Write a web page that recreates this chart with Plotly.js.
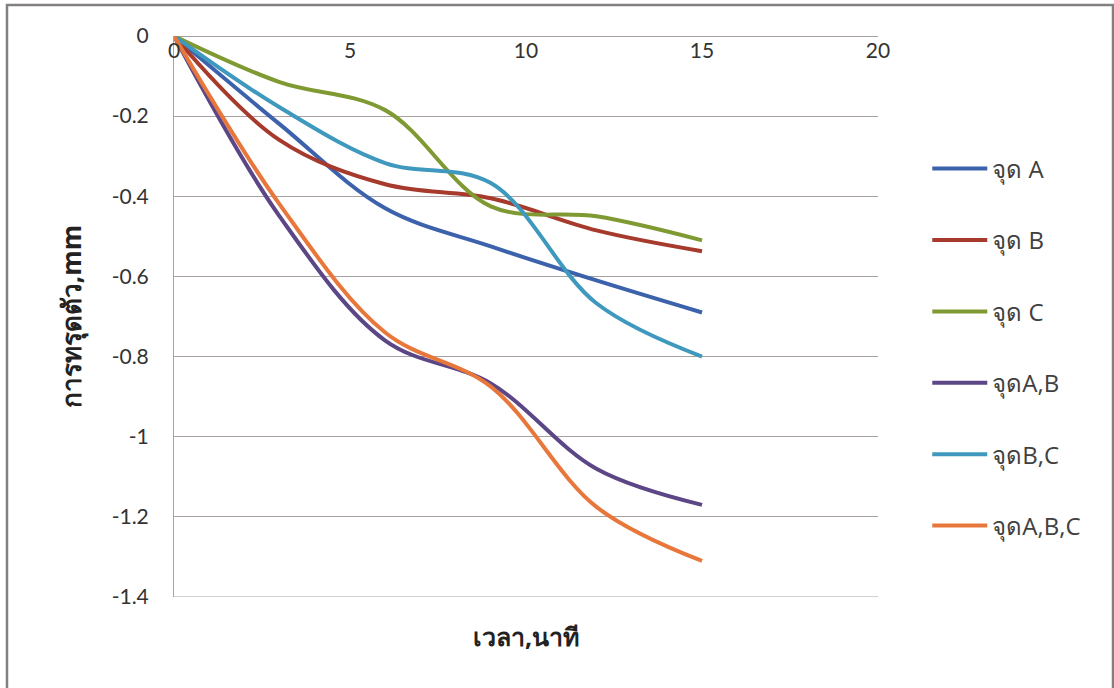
<!DOCTYPE html>
<html>
<head>
<meta charset="utf-8">
<script src="https://cdn.plot.ly/plotly-3.0.1.min.js"></script>
<style>html,body{margin:0;padding:0;background:#fff;}#chart{width:1114px;height:688px;}</style>
</head>
<body>
<div id="chart"></div>
<script>
const timeMin = [0, 3, 6, 9, 12, 15];
const seriesNames = ["จุด A", "จุด B", "จุด C", "จุดA,B", "จุดB,C", "จุดA,B,C"];
const pointA   = [0, -0.22, -0.43, -0.525, -0.61, -0.69];
const pointB   = [0, -0.26, -0.37, -0.405, -0.485, -0.537];
const pointC   = [0, -0.115, -0.185, -0.425, -0.45, -0.51];
const pointAB  = [0, -0.45, -0.76, -0.867, -1.08, -1.17];
const pointBC  = [0, -0.178, -0.317, -0.367, -0.667, -0.80];
const pointABC = [0, -0.42, -0.74, -0.875, -1.175, -1.31];
const xTicks = [0, 5, 10, 15, 20];
const yTicks = [0, -0.2, -0.4, -0.6, -0.8, -1, -1.2, -1.4];
const yTickLabels = ["0", "-0.2", "-0.4", "-0.6", "-0.8", "-1", "-1.2", "-1.4"];

const colors = ["#3d62ac", "#a63a2c", "#809a33", "#5b4686", "#3f98bd", "#e8773b"];
const allSeries = [pointA, pointB, pointC, pointAB, pointBC, pointABC];

const font = "Lato, 'Open Sans', 'Noto Sans', 'DejaVu Sans', sans-serif";
const titleFont = "'Open Sans', 'Noto Sans', 'DejaVu Sans', sans-serif";

const traces = allSeries.map((ys, i) => ({
  x: timeMin, y: ys, name: seriesNames[i], type: 'scatter', mode: 'lines',
  line: {color: colors[i], width: 4, shape: 'spline', smoothing: 1},
  legendgroup: 'g' + i, hoverinfo: 'x+y'
}));

const layout = {
  width: 1114, height: 688,
  margin: {l: 174, r: 236, t: 36, b: 91},
  paper_bgcolor: '#ffffff', plot_bgcolor: '#ffffff',
  font: {family: font, size: 20, color: '#333333'},
  showlegend: true,
  legend: {x: 1.07, y: 0.803, xanchor: 'left', yanchor: 'top',
    traceorder: 'grouped', tracegroupgap: 37.2, itemwidth: 55,
    font: {family: titleFont, size: 24, color: '#404040'}, bgcolor: 'rgba(0,0,0,0)'},
  xaxis: {range: [0, 20], tickvals: xTicks, ticktext: xTicks.map(String),
    anchor: 'free', position: 1, side: 'bottom',
    showgrid: false, zeroline: false, showline: false, ticks: '',
    tickfont: {family: font, size: 21, color: '#333333'}, ticklabelstandoff: 0,
    fixedrange: true},
  yaxis: {range: [-1.4, 0], tickvals: yTicks, ticktext: yTickLabels,
    showgrid: true, gridcolor: '#a9a1a1', gridwidth: 1,
    zeroline: true, zerolinecolor: '#a9a1a1', zerolinewidth: 1,
    showline: true, linecolor: '#a9a1a1', linewidth: 1, mirror: false,
    ticks: '', ticklabelstandoff: 20,
    tickfont: {family: font, size: 21, color: '#333333'},
    title: {text: 'การทรุดตัว,mm', font: {family: titleFont, size: 26, color: '#222222', weight: 'bold'}, standoff: 22},
    fixedrange: true},
  annotations: [
    {xref: 'paper', yref: 'paper', x: 0.5, y: -0.07, xanchor: 'center', yanchor: 'middle',
     text: '<b>เวลา,นาที</b>', showarrow: false, font: {family: titleFont, size: 25, color: '#222222'}}
  ],
  shapes: [
    {type: 'rect', xref: 'paper', yref: 'paper',
     x0: (7 - 174) / 704, x1: (1113 - 174) / 704,
     y0: 1 - (692 - 36) / 561, y1: 1 + (36 - 5) / 561,
     line: {color: '#858080', width: 2.5}, layer: 'below'},
    {type: 'line', xref: 'paper', yref: 'y', x0: 0, x1: 1, y0: -1.4, y1: -1.4,
     line: {color: '#a9a1a1', width: 1}, layer: 'below'}
  ]
};

Plotly.newPlot('chart', traces, layout, {displayModeBar: false, staticPlot: true});
</script>
</body>
</html>
